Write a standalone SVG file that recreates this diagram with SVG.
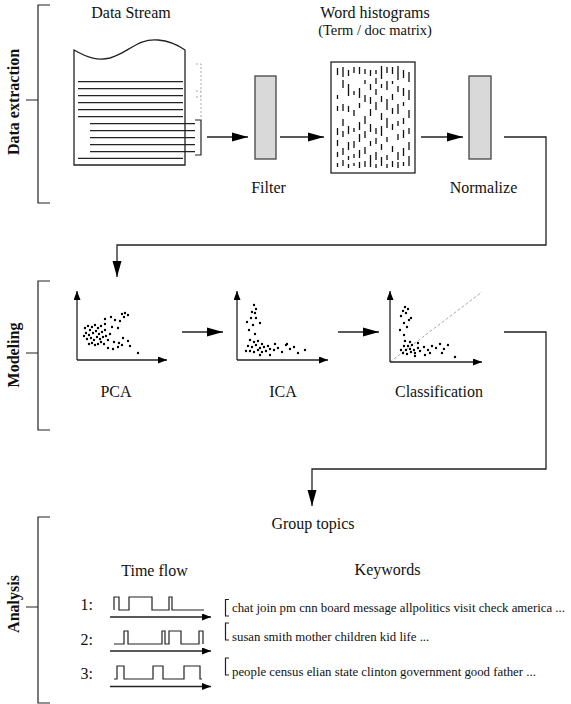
<svg xmlns="http://www.w3.org/2000/svg" width="571" height="704" viewBox="0 0 571 704">
<defs>
<style>
text{font-family:"Liberation Serif","Times New Roman",serif;fill:#111}
.lbl{font-size:16px;text-anchor:middle}
.sec{font-size:16px;font-weight:bold;text-anchor:middle}
.kw{font-size:12.8px}
.ln{stroke:#222;stroke-width:1.3;fill:none}
.br{stroke:#222;stroke-width:1.2;fill:none}
.box{fill:#d9d9d9;stroke:#444;stroke-width:1.3}
.dots{stroke:#000;stroke-width:2.4;stroke-linecap:round;fill:none}
.hist{stroke:#111;stroke-width:1.3;fill:none}
.pulse{stroke:#222;stroke-width:1.2;fill:none}
</style>
<marker id="big" markerUnits="userSpaceOnUse" markerWidth="16" markerHeight="10" refX="16" refY="5" orient="auto"><path d="M0,0.5 L16,5 L0,9.5 z" fill="#000"/></marker>
<marker id="ax" markerUnits="userSpaceOnUse" markerWidth="9" markerHeight="7" refX="9" refY="3.5" orient="auto"><path d="M0,0 L9,3.5 L0,7 z" fill="#000"/></marker>
</defs>

<g id="section-brackets">
<path class="br" d="M50,5 H38 V203 H50 M26,100 H38"/>
<text class="sec" transform="translate(19,102) rotate(-90)">Data extraction</text>
<path class="br" d="M50,281 H38 V430 H50 M26,353 H38"/>
<text class="sec" transform="translate(19,355) rotate(-90)">Modeling</text>
<path class="br" d="M50,517 H38 V703 H50 M26,607 H38"/>
<text class="sec" transform="translate(19,604) rotate(-90)">Analysis</text>
</g>

<g id="connectors">
<path class="ln" d="M207,137 H248" marker-end="url(#big)"/>
<path class="ln" d="M280,137 H324" marker-end="url(#big)"/>
<path class="ln" d="M421,137 H463" marker-end="url(#big)"/>
<path class="ln" d="M504,137 H546 V245 H117 V277" marker-end="url(#big)"/>
<path class="ln" d="M182,332 H223" marker-end="url(#big)"/>
<path class="ln" d="M338,332 H379" marker-end="url(#big)"/>
<path class="ln" d="M504,332 H546 V469 H312 V506" marker-end="url(#big)"/>
</g>

<g id="data-stream">
<text class="lbl" x="131" y="18">Data Stream</text>
<path class="ln" d="M74,50 C88,58 98,61 110,58 C128,53 138,38 158,40 C170,41 178,45 185,50 V165 H74 Z"/>
<path class="ln" d="M78,81.7 H183 M78,88.7 H183 M78,95.7 H183 M78,102.7 H183 M78,109.7 H183 M78,116.7 H183 M78,158.3 H183"/>
<path class="ln" d="M90,123.7 H195 M90,130.7 H195 M90,137.7 H195 M90,144.7 H195 M90,151.7 H195"/>
<path class="br" d="M195,120 H201 V155 H195"/>
<path d="M196,64 H201 V120 M196,91 H201 M196,97 H201" stroke="#aaa" stroke-width="1" stroke-dasharray="2,2" fill="none"/>
</g>

<g id="filter">
<rect class="box" x="255" y="76" width="21" height="83"/>
<text class="lbl" x="268.5" y="193">Filter</text>
</g>

<g id="word-histograms">
<text class="lbl" x="375" y="18">Word histograms</text>
<text class="lbl" x="375" y="35" style="font-size:14.5px">(Term / doc matrix)</text>
<rect x="331" y="62" width="84" height="111" fill="#fff" stroke="#222" stroke-width="1.3"/>
<path class="hist" d="M337.5,68V75M337.5,95V99M337.5,106V111M337.5,128V135M337.5,140V146M337.5,152V157M337.5,163V167
M343,67V77M343,80V88M343,104V111M343,119V126M343,131V137M343,148V155M343,160V166
M348.5,70V76M348.5,84V96M348.5,106V112M348.5,126V134M348.5,142V150M348.5,156V160M348.5,164V168
M354,67V73M354,91V95M354,110V116M354,128V132M354,141V148M354,154V158M354,163V166
M359.5,67V74M359.5,88V98M359.5,103V108M359.5,122V130M359.5,134V142M359.5,150V158M359.5,162V168
M365,69V74M365,80V84M365,95V102M365,116V124M365,131V138M365,147V154M365,161V167
M370.5,70V76M370.5,84V90M370.5,97V104M370.5,109V116M370.5,124V132M370.5,141V146M370.5,155V167
M376,70V74M376,78V84M376,89V95M376,102V110M376,128V134M376,138V144M376,152V160M376,164V168
M381.5,66V79M381.5,84V88M381.5,96V102M381.5,113V120M381.5,126V136M381.5,144V150M381.5,157V166
M387,67V73M387,81V90M387,99V110M387,118V128M387,137V142M387,155V160M387,164V168
M392.5,67V74M392.5,81V84M392.5,94V100M392.5,108V114M392.5,124V130M392.5,146V152M392.5,161V167
M398,66V80M398,86V92M398,104V114M398,121V126M398,134V140M398,152V160M398,162V168
M403.5,70V78M403.5,88V96M403.5,102V106M403.5,118V124M403.5,130V138M403.5,148V156M403.5,162V166
M409,72V82M409,90V100M409,110V118M409,128V134M409,142V150M409,156V166"/>
</g>

<g id="normalize">
<rect class="box" x="469" y="76" width="22" height="83"/>
<text class="lbl" x="483.5" y="193">Normalize</text>
</g>

<g id="pca">
<path class="ln" d="M77,360 V291" marker-end="url(#ax)"/>
<path class="ln" d="M77,360 H167" marker-end="url(#ax)"/>
<path class="dots" d="M105,319h0M111,317h0M115,320h0M120,321h0M122,314h0M125,313h0M128,315h0M124,317h0M105,324h0M112,327h0M118,328h0
M85,328h0M88,326h0M90,330h0M92,327h0M95,325h0M98,328h0M101,326h0M86,333h0M89,335h0M93,333h0M96,331h0M99,334h0M102,332h0M105,330h0M87,339h0M91,338h0M94,340h0M97,337h0M100,339h0M103,337h0M106,336h0M92,343h0M95,345h0M98,344h0M101,342h0M104,344h0M89,344h0M84,336h0M108,340h0M110,334h0
M114,342h0M119,343h0M123,338h0M128,341h0M122,345h0M130,346h0M138,353h0M108,348h0M113,349h0M118,347h0"/>
<text class="lbl" x="116" y="397">PCA</text>
</g>

<g id="ica">
<path class="ln" d="M237,360 V291" marker-end="url(#ax)"/>
<path class="ln" d="M237,360 H328" marker-end="url(#ax)"/>
<path class="dots" d="M254,305h0M256,309h0M252,312h0M255,313h0M251,318h0M256,318h0M247,322h0M253,325h0M260,323h0M249,330h0M255,334h0
M250,340h0M254,342h0M258,341h0M262,344h0M248,346h0M252,347h0M256,345h0M260,348h0M264,347h0M268,346h0M250,351h0M254,352h0M258,350h0M262,352h0M266,351h0M270,349h0M274,350h0M278,348h0M282,352h0M286,345h0M290,349h0M294,347h0M298,353h0M287,344h0M270,355h0M246,351h0M260,355h0M275,344h0M305,350h0"/>
<text class="lbl" x="283" y="397">ICA</text>
</g>

<g id="classification">
<path d="M390,362 L482,292" stroke="#aaa" stroke-width="1" stroke-dasharray="3,2" fill="none"/>
<path class="ln" d="M390,362 V291" marker-end="url(#ax)"/>
<path class="ln" d="M390,362 H482" marker-end="url(#ax)"/>
<path class="dots" d="M405,307h0M408,309h0M403,311h0M406,313h0M401,316h0M409,320h0M404,323h0M411,318h0M400,330h0M407,327h0M404,335h0
M405,341h0M410,342h0M404,346h0M408,346h0M412,345h0M401,350h0M406,350h0M410,349h0M414,350h0M418,348h0M403,353h0M407,354h0M411,352h0M415,353h0M420,351h0M424,347h0M428,350h0M432,346h0M436,348h0M440,344h0M444,349h0M448,345h0M425,355h0M415,356h0M430,353h0M442,353h0M455,357h0M418,343h0"/>
<text class="lbl" x="439" y="397">Classification</text>
</g>

<g id="group-topics">
<text class="lbl" x="313" y="529">Group topics</text>
<text class="lbl" x="154.5" y="576">Time flow</text>
<text class="lbl" x="387.5" y="575">Keywords</text>
</g>

<g id="topic-1">
<text class="lbl" x="93" y="610" style="text-anchor:end">1:</text>
<polyline class="pulse" points="114,610 114,597 119,597 119,610 129,610 129,597 152,597 152,610 169,610 169,597 172,597 172,610 204,610"/>
<path class="ln" d="M110,617 H211" marker-end="url(#ax)"/>
<path class="br" d="M229,599.5 H225.5 V616 H229"/>
<text class="kw" x="232" y="612">chat join pm cnn board message allpolitics visit check america ...</text>
</g>

<g id="topic-2">
<text class="lbl" x="93" y="645" style="text-anchor:end">2:</text>
<polyline class="pulse" points="114,644 124,644 124,631 128,631 128,644 162,644 162,631 165,631 165,644 169,644 169,631 181,631 181,644 199,644 199,631 203,631 203,644"/>
<path class="ln" d="M110,651 H211" marker-end="url(#ax)"/>
<path class="br" d="M229,623 H225.5 V640 H229"/>
<text class="kw" x="232" y="641">susan smith mother children kid life ...</text>
</g>

<g id="topic-3">
<text class="lbl" x="93" y="679" style="text-anchor:end">3:</text>
<polyline class="pulse" points="114,679 117,679 117,666 124,666 124,679 153,679 153,666 163,666 163,679 184,679 184,666 200,666 200,679 202,679"/>
<path class="ln" d="M110,686.5 H211" marker-end="url(#ax)"/>
<path class="br" d="M229,658 H225.5 V675 H229"/>
<text class="kw" x="232" y="676">people census elian state clinton government good father ...</text>
</g>
</svg>
